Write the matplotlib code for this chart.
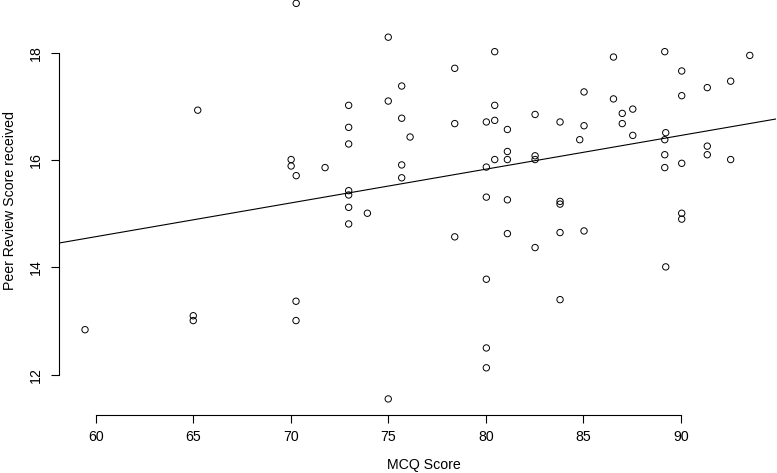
import numpy as np
import matplotlib.pyplot as plt

plt.rcParams['font.family'] = ['Liberation Sans', 'DejaVu Sans']

# MCQ score vs peer review score received
mcq = [65.23, 59.45, 65.0, 65.0,
       70.28, 75.0, 80.46, 78.41, 75.69, 72.97, 75.0, 80.46, 75.69, 72.97,
       78.41, 80.03, 80.46, 81.11, 76.12, 72.97, 81.11, 81.11, 80.46, 80.03,
       70.02, 70.02, 70.28, 71.76, 75.69, 75.69, 72.97, 72.97, 72.97, 73.93,
       72.97, 80.03, 81.11, 78.41, 81.11,
       89.18, 93.54, 86.55, 90.05, 92.56, 91.36, 90.05, 85.04, 86.55, 87.54,
       87.0, 87.0, 82.53, 83.81, 85.04, 87.54, 84.82, 89.23, 89.18, 82.53,
       82.53, 89.18, 91.36, 91.36, 92.56, 90.05, 89.18, 83.81, 83.81, 90.05,
       90.05, 83.81, 85.04,
       82.53, 89.23, 83.81, 80.03, 70.27, 70.27, 80.03, 80.03, 75.0]
peer = [16.93, 12.84, 13.10, 13.01,
        18.92, 18.29, 18.02, 17.71, 17.38, 17.02, 17.10, 17.02, 16.78, 16.61,
        16.68, 16.71, 16.74, 16.57, 16.43, 16.30, 16.16, 16.01, 16.01, 15.87,
        16.01, 15.89, 15.71, 15.86, 15.91, 15.67, 15.43, 15.35, 15.12, 15.01,
        14.81, 15.31, 15.26, 14.57, 14.63,
        18.02, 17.95, 17.92, 17.66, 17.47, 17.35, 17.20, 17.27, 17.14, 16.95,
        16.87, 16.68, 16.85, 16.71, 16.64, 16.46, 16.38, 16.51, 16.38, 16.08,
        16.01, 16.10, 16.26, 16.10, 16.01, 15.94, 15.86, 15.23, 15.18, 15.01,
        14.90, 14.65, 14.68,
        14.37, 14.01, 13.40, 13.78, 13.37, 13.01, 12.50, 12.13, 11.55]

x_ticks = [60, 65, 70, 75, 80, 85, 90]
y_ticks = [12, 14, 16, 18]

W, H = 777, 473
fig = plt.figure(figsize=(W / 100, H / 100), dpi=100)
# plot region in pixels (top runs past the image edge like the reference)
left, right, bottom, top = 58.5, 776.3, 414.5, -12.2
ax = fig.add_axes([left / W, 1 - bottom / H, (right - left) / W, (bottom - top) / H])

ax.scatter(mcq, peer, s=21, facecolors='none', edgecolors='black', linewidths=0.7, zorder=3)

slope, intercept = np.polyfit(mcq, peer, 1)
ax.axline((60, intercept + slope * 60), slope=slope, color='black', linewidth=0.8)

ax.set_xlim(58.09, 94.9)
ax.set_ylim(11.26, 19.21)

for s in ['top', 'right']:
    ax.spines[s].set_visible(False)
ax.spines['left'].set_bounds(12, 18)
ax.spines['bottom'].set_bounds(60, 90)
for s in ['left', 'bottom']:
    ax.spines[s].set_linewidth(0.8)

ax.set_xticks(x_ticks)
ax.set_yticks(y_ticks)
ax.set_yticklabels([str(v) for v in y_ticks], rotation=90, va='center')
ax.tick_params(axis='both', length=5.5, width=0.8, labelsize=10.2, pad=6)

fig.text(424 / W, 1 - 465 / H, 'MCQ Score', ha='center', va='center', fontsize=10.2)
fig.text(10 / W, 1 - 201 / H, 'Peer Review Score received', ha='center', va='center',
         rotation=90, fontsize=10.2)

fig.savefig('out.png', dpi=100)
